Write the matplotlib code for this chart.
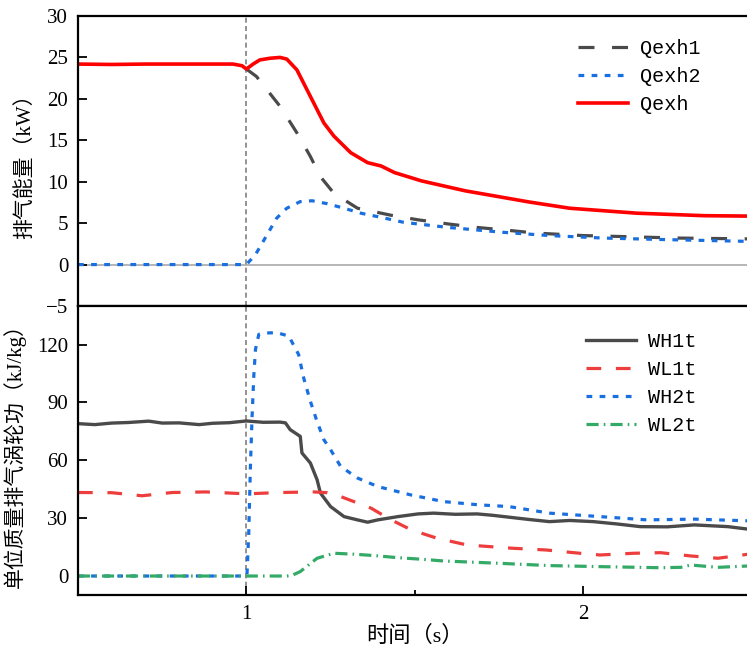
import matplotlib
matplotlib.use("Agg")
import matplotlib.pyplot as plt

plt.rcParams['font.family'] = ['Liberation Serif', 'Noto Sans CJK SC']
plt.rcParams['axes.unicode_minus'] = True

# ---- exhaust energy (kW) ----
t_qexh = [0.5, 0.6, 0.7, 0.8, 0.9, 0.96, 0.987, 1.0, 1.02, 1.04, 1.07, 1.10, 1.12,
          1.15, 1.19, 1.23, 1.26, 1.31, 1.36, 1.40, 1.44, 1.52, 1.65, 1.84, 1.96,
          2.16, 2.36, 2.49]
qexh = [24.2, 24.15, 24.2, 24.2, 24.2, 24.2, 24.0, 23.6, 24.2, 24.7, 24.9, 25.0, 24.8,
        23.5, 20.3, 17.1, 15.5, 13.5, 12.3, 11.9, 11.1, 10.1, 8.9, 7.55, 6.8,
        6.2, 5.9, 5.85]

t_qexh1 = [1.0, 1.03, 1.10, 1.15, 1.19, 1.22, 1.26, 1.33, 1.43, 1.51, 1.60, 1.68,
           1.76, 1.86, 2.0, 2.10, 2.28, 2.49]
qexh1 = [23.6, 22.7, 19.1, 15.9, 13.05, 10.6, 8.6, 6.8, 5.95, 5.4, 4.9, 4.5,
         4.2, 3.8, 3.5, 3.4, 3.2, 3.1]

t_qexh2 = [0.5, 1.0, 1.027, 1.05, 1.07, 1.09, 1.12, 1.16, 1.195, 1.24, 1.29, 1.34,
           1.40, 1.467, 1.595, 1.76, 1.90, 2.06, 2.26, 2.49]
qexh2 = [0, 0, 1.2, 2.8, 4.2, 5.6, 6.8, 7.6, 7.7, 7.35, 6.8, 6.2,
         5.7, 5.1, 4.5, 3.9, 3.5, 3.2, 3.0, 2.8]

# ---- specific turbine work (kJ/kg) ----
t_wh1 = [0.5, 0.55, 0.6, 0.65, 0.71, 0.75, 0.8, 0.86, 0.9, 0.95, 1.0, 1.05, 1.1,
         1.116, 1.13, 1.16, 1.165, 1.19, 1.21, 1.22, 1.25, 1.29, 1.33, 1.36, 1.39,
         1.45, 1.51, 1.556, 1.62, 1.685, 1.73, 1.78, 1.84, 1.90, 1.96, 2.03, 2.10,
         2.17, 2.25, 2.33, 2.43, 2.49]
wh1 = [79.0, 78.5, 79.3, 79.6, 80.3, 79.3, 79.4, 78.5, 79.2, 79.5, 80.4, 79.7, 79.8,
       79.4, 75.9, 72.4, 63.8, 58.6, 49.9, 43.0, 36.0, 30.8, 29.1, 27.9, 29.1,
       30.8, 32.2, 32.6, 32.0, 32.2, 31.5, 30.5, 29.3, 28.2, 28.8, 28.2, 27.0,
       25.6, 25.5, 26.5, 25.6, 24.3]

t_wl1 = [0.5, 0.6, 0.69, 0.78, 0.88, 1.0, 1.1, 1.2, 1.24, 1.28, 1.37, 1.43, 1.49,
         1.566, 1.655, 1.79, 1.89, 1.99, 2.05, 2.15, 2.23, 2.32, 2.40, 2.49]
wl1 = [43.3, 43.2, 41.6, 43.3, 43.6, 42.6, 43.3, 43.6, 43.2, 41.2, 35.2, 29.1, 23.9,
       19.6, 16.1, 14.4, 13.5, 11.8, 10.9, 11.8, 12.1, 10.4, 9.2, 11.3]

t_wh2 = [0.5, 1.0, 1.002, 1.007, 1.012, 1.017, 1.022, 1.027, 1.037, 1.06, 1.09,
         1.126, 1.155, 1.17, 1.19, 1.208, 1.23, 1.25, 1.28, 1.33, 1.39, 1.487,
         1.585, 1.69, 1.78, 1.90, 2.05, 2.19, 2.33, 2.49]
wh2 = [0, 0, 1.4, 22.0, 56.8, 82.8, 103.6, 117.5, 125.3, 126.0, 126.2,
       124.4, 114.9, 102.8, 90.6, 81.1, 70.7, 65.5, 56.8, 50.8, 46.4, 42.1,
       38.6, 36.9, 36.0, 32.6, 30.8, 29.1, 29.5, 28.6]

t_wl2 = [0.5, 1.0, 1.12, 1.135, 1.16, 1.21, 1.26, 1.32, 1.38, 1.45, 1.52, 1.585,
         1.75, 1.90, 2.07, 2.23, 2.29, 2.32, 2.40, 2.49]
wl2 = [0, 0, 0, 0.3, 2.3, 9.2, 11.8, 11.3, 10.6, 9.5, 8.7, 7.8,
       6.6, 5.4, 4.8, 4.3, 4.5, 5.7, 4.5, 5.2]

event_t = 1.0
top_yticks = [-5, 0, 5, 10, 15, 20, 25, 30]
bot_yticks = [0, 30, 60, 90, 120]

W, H = 747, 646
fig = plt.figure(figsize=(W / 100, H / 100), dpi=100)
left = 78 / W
width = (751.5 - 78) / W
ax1 = fig.add_axes([left, (H - 306) / H, width, (306 - 16) / H])
ax2 = fig.add_axes([left, (H - 595.3) / H, width, (595.3 - 306) / H], sharex=ax1)

GRAY = '#4a4a4a'
BLUE = '#1a6fe0'
RED_L = '#ee3d3d'
GREEN = '#33aa66'

# top panel
ax1.axhline(0, color='#b0b0b0', lw=1.3, zorder=1)
ax1.axvline(event_t, color='#808080', lw=1.2, dashes=(3, 2), zorder=1)
ax1.plot(t_qexh1, qexh1, color=GRAY, lw=2.3, dashes=(5.0, 5.5), label='Qexh1')
ax1.plot(t_qexh2, qexh2, color=BLUE, lw=2.3, dashes=(1.8, 2.3), label='Qexh2')
ax1.plot(t_qexh, qexh, color='#ff0000', lw=2.6, label='Qexh')
ax1.set_ylim(-5, 30)
ax1.set_yticks(top_yticks)
ax1.set_ylabel('排气能量（kW）', fontsize=15, labelpad=8)

# bottom panel
ax2.axvline(event_t, color='#808080', lw=1.2, dashes=(3, 2), zorder=1)
ax2.plot(t_wh1, wh1, color=GRAY, lw=2.4, label='WH1t')
ax2.plot(t_wl1, wl1, color=RED_L, lw=2.3, dashes=(4.6, 4.6), label='WL1t')
ax2.plot(t_wh2, wh2, color=BLUE, lw=2.3, dashes=(1.8, 2.3), label='WH2t')
ax2.plot(t_wl2, wl2, color=GREEN, lw=2.3, dashes=(3.8, 1.6, 0.5, 1.6), label='WL2t')
ax2.set_ylim(-10, 140)
ax2.set_yticks(bot_yticks)
ax2.set_xlim(0.5, 2.5)
ax2.set_xticks([1, 2])
ax2.set_xticklabels(['1', '2'])
ax2.set_xticks([1.5], minor=True)
ax2.set_ylabel('单位质量排气涡轮功（kJ/kg）', fontsize=15, labelpad=8)
ax2.set_xlabel('时间（s）', fontsize=16, labelpad=1)

for ax in (ax1, ax2):
    for s in ax.spines.values():
        s.set_linewidth(1.6)
    ax.tick_params(axis='both', which='major', direction='in', length=6.5, width=1.3,
                   labelsize=15, pad=7, top=False, right=False)
    ax.tick_params(axis='x', which='minor', direction='in', length=3.5, width=1.3,
                   top=False)
ax1.tick_params(axis='x', which='both', bottom=False, labelbottom=False)

leg_kw = dict(frameon=False, loc='upper left', borderaxespad=0, borderpad=0,
              handlelength=2.5, handletextpad=0.6, labelspacing=0.44,
              prop={'family': 'Liberation Mono', 'size': 14.5})
ax1.legend(bbox_to_anchor=(0.742, 0.92), **leg_kw)
ax2.legend(bbox_to_anchor=(0.754, 0.91), **leg_kw)

fig.savefig('out.png', dpi=100)
